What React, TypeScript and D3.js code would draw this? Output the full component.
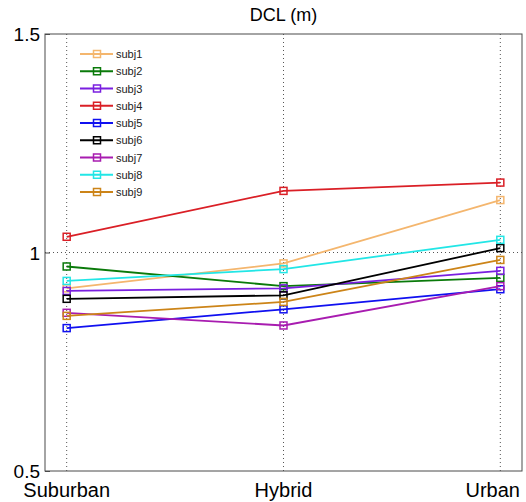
import React, { useEffect, useRef } from 'react';
import * as d3 from 'd3';

const categories = ['Suburban', 'Hybrid', 'Urban'];
const subjects = ['subj1', 'subj2', 'subj3', 'subj4', 'subj5', 'subj6', 'subj7', 'subj8', 'subj9'];
const colors = ['#F4B66E', '#0A7A0A', '#7A1FE0', '#DA1F26', '#1010F0', '#000000', '#A81CB0', '#22E6E6', '#CC8418'];

// one row per subject: Suburban, Hybrid, Urban
const subj1 = [0.918, 0.975, 1.12];
const subj2 = [0.968, 0.923, 0.942];
const subj3 = [0.912, 0.918, 0.958];
const subj4 = [1.036, 1.141, 1.16];
const subj5 = [0.827, 0.87, 0.916];
const subj6 = [0.894, 0.902, 1.01];
const subj7 = [0.862, 0.833, 0.923];
const subj8 = [0.935, 0.962, 1.029];
const subj9 = [0.855, 0.887, 0.983];
const series = [subj1, subj2, subj3, subj4, subj5, subj6, subj7, subj8, subj9];

const yTicks = [0.5, 1, 1.5];

const App = () => {
  const svgRef = useRef<SVGSVGElement>(null);

  useEffect(() => {
    const svg = d3.select(svgRef.current);
    svg.selectAll('*').remove();

    const width = 526;
    const height = 502;
    const margin = { top: 34, right: 4, bottom: 31, left: 45 };
    const font = 'Arial, "Liberation Sans", sans-serif';

    const x = d3.scaleLinear()
      .domain([0.9, 3.1])
      .range([margin.left, width - margin.right]);

    const y = d3.scaleLinear()
      .domain([0.5, 1.5])
      .range([height - margin.bottom, margin.top]);

    // white background
    svg.append('rect')
      .attr('width', width)
      .attr('height', height)
      .attr('fill', '#fff');

    // dotted grid
    const grid = svg.append('g');
    grid.selectAll('line.vx')
      .data(categories)
      .join('line')
      .attr('x1', (_, i) => x(i + 1))
      .attr('x2', (_, i) => x(i + 1))
      .attr('y1', y(0.5))
      .attr('y2', y(1.5))
      .attr('stroke', '#555')
      .attr('stroke-width', 1)
      .attr('stroke-dasharray', '1,3');
    grid.append('line')
      .attr('x1', x(0.9))
      .attr('x2', x(3.1))
      .attr('y1', y(1))
      .attr('y2', y(1))
      .attr('stroke', '#555')
      .attr('stroke-width', 1)
      .attr('stroke-dasharray', '1,3');

    // axes box
    svg.append('rect')
      .attr('x', x(0.9))
      .attr('y', y(1.5))
      .attr('width', x(3.1) - x(0.9))
      .attr('height', y(0.5) - y(1.5))
      .attr('fill', 'none')
      .attr('stroke', '#4a4a4a')
      .attr('stroke-width', 1);

    // y ticks (inward)
    const yAxis = svg.append('g')
      .attr('transform', `translate(${margin.left},0)`)
      .call(d3.axisRight(y).tickValues(yTicks).tickSize(5).tickFormat(() => ''));
    yAxis.select('.domain').remove();
    yAxis.selectAll('line').attr('stroke', '#4a4a4a');

    svg.append('g')
      .selectAll('text')
      .data(yTicks)
      .join('text')
      .attr('x', margin.left - 5)
      .attr('y', d => y(d) + 7)
      .attr('text-anchor', 'end')
      .style('font-family', font)
      .style('font-size', '19px')
      .text(d => d3.format('')(d));

    // x tick labels, kept inside the figure
    svg.append('g')
      .selectAll('text')
      .data(categories)
      .join('text')
      .attr('x', (_, i) => x(i + 1))
      .attr('y', height - 5)
      .attr('text-anchor', 'middle')
      .style('font-family', font)
      .style('font-size', '20px')
      .text(d => d)
      .each(function (_, i) {
        const w = (this as SVGTextElement).getComputedTextLength();
        const cx = Math.min(x(i + 1), width - 6 - w / 2);
        d3.select(this).attr('x', cx);
      });

    // title
    svg.append('text')
      .attr('x', (x(0.9) + x(3.1)) / 2)
      .attr('y', 21)
      .attr('text-anchor', 'middle')
      .style('font-family', font)
      .style('font-size', '18px')
      .text('DCL (m)');

    const line = d3.line<number>()
      .x((_, i) => x(i + 1))
      .y(d => y(d));

    // lines and square markers
    series.forEach((vals, s) => {
      const g = svg.append('g');
      g.append('path')
        .datum(vals)
        .attr('d', line)
        .attr('fill', 'none')
        .attr('stroke', colors[s])
        .attr('stroke-width', 1.8);
      g.selectAll('rect')
        .data(vals)
        .join('rect')
        .attr('x', (_, i) => x(i + 1) - 3.5)
        .attr('y', d => y(d) - 3.5)
        .attr('width', 7)
        .attr('height', 7)
        .attr('fill', 'none')
        .attr('stroke', colors[s])
        .attr('stroke-width', 1.5);
    });

    // legend
    const legend = svg.append('g');
    subjects.forEach((name, s) => {
      const ly = 54 + s * 17.25;
      legend.append('line')
        .attr('x1', 80)
        .attr('x2', 113)
        .attr('y1', ly)
        .attr('y2', ly)
        .attr('stroke', colors[s])
        .attr('stroke-width', 1.8);
      legend.append('rect')
        .attr('x', 93.5)
        .attr('y', ly - 3.5)
        .attr('width', 7)
        .attr('height', 7)
        .attr('fill', 'none')
        .attr('stroke', colors[s])
        .attr('stroke-width', 1.5);
      legend.append('text')
        .attr('x', 116)
        .attr('y', ly + 4)
        .style('font-family', font)
        .style('font-size', '11px')
        .attr('fill', '#222')
        .text(name);
    });
  }, []);

  return (
    <svg
      ref={svgRef}
      width={526}
      height={502}
      style={{ position: 'absolute', left: 0, top: 0 }}
    />
  );
};

export default App;
